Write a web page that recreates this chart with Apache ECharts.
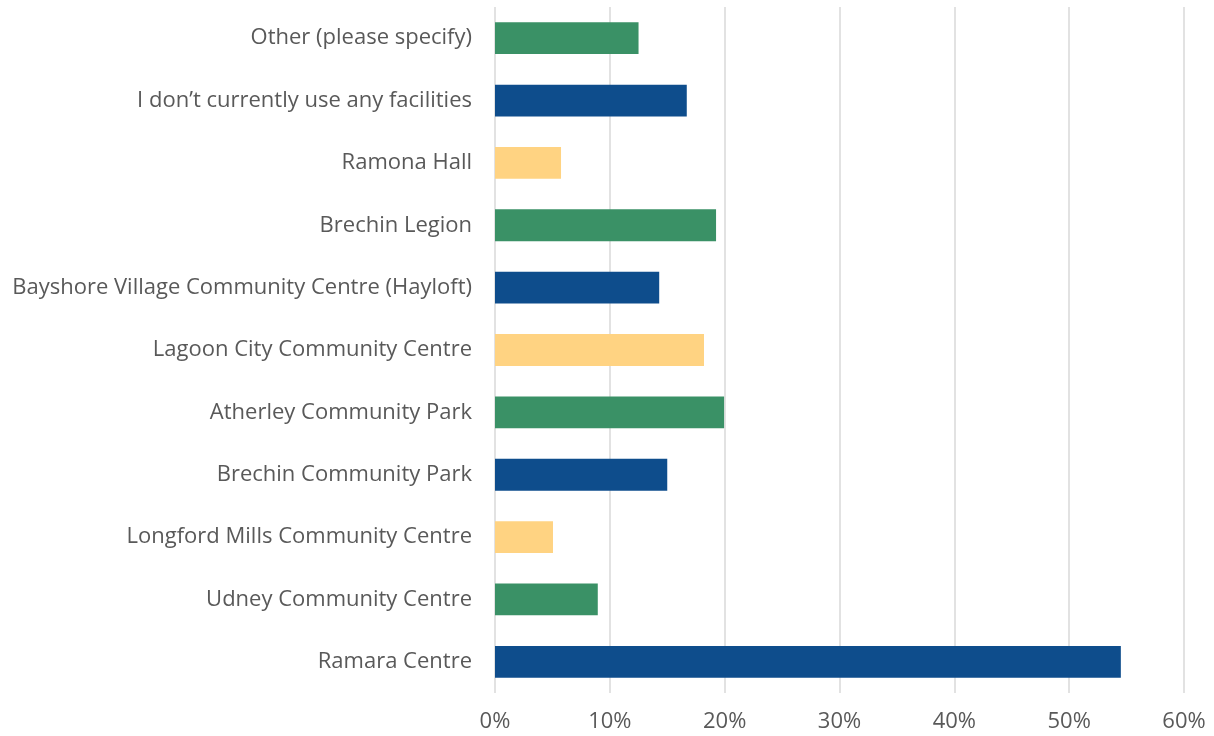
<!DOCTYPE html>
<html>
<head>
<meta charset="utf-8">
<script src="https://cdn.jsdelivr.net/npm/echarts@6/dist/echarts.min.js"></script>
<style>html,body{margin:0;padding:0;background:#fff;}#c{width:1214px;height:736px;}</style>
</head>
<body>
<div id="c"></div>
<script>
const categories = [
  "Other (please specify)",
  "I don’t currently use any facilities",
  "Ramona Hall",
  "Brechin Legion",
  "Bayshore Village Community Centre (Hayloft)",
  "Lagoon City Community Centre",
  "Atherley Community Park",
  "Brechin Community Park",
  "Longford Mills Community Centre",
  "Udney Community Centre",
  "Ramara Centre"
];
const values = [12.5, 16.7, 5.75, 19.25, 14.3, 18.2, 19.95, 15.0, 5.05, 8.95, 54.5];
const xTicks = [0, 10, 20, 30, 40, 50, 60];
const palette = ["#3A9166", "#0E4D8C", "#FFD382"];

const chart = echarts.init(document.getElementById('c'));
chart.setOption({
  animation: false,
  grid: { left: 495, right: 30, top: 7, bottom: 43, containLabel: false },
  xAxis: {
    type: 'value', min: xTicks[0], max: xTicks[xTicks.length - 1], interval: 10,
    axisLine: { show: false }, axisTick: { show: false },
    splitLine: { lineStyle: { color: '#d9d9d9', width: 1.5 } },
    axisLabel: { formatter: v => v + '%', color: '#595959', fontSize: 22, fontFamily: 'Open Sans', margin: 18 }
  },
  yAxis: {
    type: 'category', data: categories, inverse: true,
    axisLine: { show: false }, axisTick: { show: false },
    axisLabel: { color: '#595959', fontSize: 22, fontFamily: 'Open Sans', margin: 23 }
  },
  series: [{
    type: 'bar',
    barCategoryGap: '49%',
    data: values.map((v, i) => ({ value: v, itemStyle: { color: palette[i % 3] } }))
  }]
});
</script>
</body>
</html>
